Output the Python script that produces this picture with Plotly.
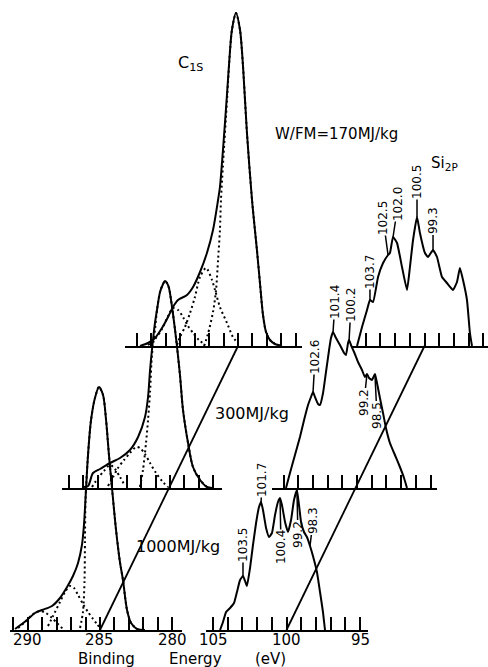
import plotly.graph_objects as go

W, H = 488, 667

# ---------------- data: binding energy (eV) and intensity (arb. units) ----------------
# C1s, W/FM = 1000 MJ/kg
c1s_1000_E = [290.88, 290.05, 289.50, 289.01, 288.32, 287.77, 287.28, 286.87, 286.52, 286.25, 286.11, 285.97,
              285.83, 285.62, 285.35, 285.07, 284.79, 284.58, 284.38, 284.17, 283.89, 283.62, 283.41, 283.13,
              282.85, 282.44, 281.89]
c1s_1000_I = [1, 10, 17, 20, 24, 32, 43, 54, 67, 85, 105, 140, 175, 210, 232, 243, 235, 210, 175, 142, 100, 68,
              50, 20, 7, 1, 0]
c1s_1000_c1_E = [286.38, 286.18, 286.07, 286.04, 286.00, 285.83, 285.62, 285.35, 285.07, 284.79, 284.58, 284.38,
                 284.17, 283.89, 283.62, 283.41, 283.13, 282.85, 282.44]
c1s_1000_c1_I = [2, 18, 50, 90, 130, 175, 210, 232, 243, 235, 210, 175, 142, 100, 68, 50, 20, 7, 1]
c1s_1000_c2_E = [288.60, 288.25, 287.77, 287.42, 287.08, 286.80, 286.52, 286.18, 285.83, 285.48, 285.21, 285.00]
c1s_1000_c2_I = [4, 14, 28, 38, 44, 42, 35, 26, 18, 11, 6, 2]
c1s_1000_c3_E = [290.67, 290.19, 289.71, 289.15, 288.74, 288.32, 287.91, 287.56]
c1s_1000_c3_I = [2, 8, 15, 19, 17, 12, 6, 1]

# C1s, W/FM = 300 MJ/kg
c1s_300_E = [291.02, 290.67, 290.33, 289.84, 289.15, 288.46, 287.77, 287.21, 286.73, 286.52, 286.38, 286.25,
             286.04, 285.90, 285.69, 285.48, 285.35, 285.21, 285.07, 284.86, 284.65, 284.52, 284.31, 284.10,
             283.75, 283.41, 282.92, 282.44, 282.09]
c1s_300_I = [1, 2, 15, 19, 25, 30, 38, 51, 71, 91, 118, 138, 165, 178, 196, 204, 207, 205, 200, 181, 158, 142,
             113, 78, 45, 21, 8, 1, 0]
c1s_300_c1_E = [287.08, 286.87, 286.66, 286.52, 286.38, 286.25, 286.04, 285.90, 285.69, 285.48, 285.35, 285.21,
                285.07, 284.86, 284.65, 284.52, 284.31, 284.10, 283.75, 283.41, 282.92, 282.44]
c1s_300_c1_I = [1, 18, 45, 68, 96, 133, 158, 178, 196, 204, 207, 205, 200, 181, 158, 142, 113, 78, 45, 21, 8, 1]
c1s_300_c2_E = [289.29, 288.94, 288.60, 288.18, 287.77, 287.35, 287.08, 286.73, 286.38, 285.97, 285.55, 285.14]
c1s_300_c2_I = [2, 11, 20, 28, 35, 41, 40, 34, 25, 15, 7, 1]
c1s_300_c3_E = [290.40, 289.98, 289.57, 289.15, 288.81, 288.46, 288.11]
c1s_300_c3_I = [1, 10, 17, 23, 19, 11, 2]

# C1s, W/FM = 170 MJ/kg
c1s_170_E = [291.78, 291.23, 290.74, 290.26, 289.84, 289.50, 289.15, 288.53, 288.11, 287.63, 287.15, 286.73,
             286.38, 286.25, 286.04, 285.76, 285.55, 285.42, 285.14, 284.86, 284.65, 284.38, 284.03, 283.69,
             283.48, 283.27, 283.06, 282.79, 282.44, 281.96]
c1s_170_I = [0, 3, 8, 18, 29, 39, 46, 51, 59, 74, 93, 116, 146, 159, 196, 252, 296, 316, 333, 316, 279, 213, 146,
             96, 63, 31, 14, 6, 2, 0]
c1s_170_c1_E = [287.35, 287.08, 286.73, 286.52, 286.38, 286.25, 286.18, 286.04, 285.76, 285.55, 285.42, 285.14,
                284.86, 284.65, 284.38, 284.03, 283.69, 283.48, 283.27, 283.06, 282.79, 282.44]
c1s_170_c1_I = [0, 12, 34, 56, 86, 116, 146, 181, 246, 296, 316, 333, 316, 279, 213, 146, 96, 63, 31, 14, 6, 2]
c1s_170_c2_E = [289.22, 289.01, 288.67, 288.32, 287.98, 287.63, 287.21, 286.80, 286.59, 286.25, 285.76, 285.35,
                285.00]
c1s_170_c2_I = [1, 9, 19, 33, 49, 69, 78, 66, 56, 39, 23, 9, 3]
c1s_170_c3_E = [291.23, 290.74, 290.26, 289.84, 289.50, 289.15, 288.81, 288.46, 288.11, 287.70, 287.28]
c1s_170_c3_I = [1, 7, 17, 30, 38, 36, 29, 20, 13, 6, 1]

# Si2p, W/FM = 1000 MJ/kg
si_1000_E = [104.52, 104.32, 104.11, 103.84, 103.57, 103.37, 103.16, 102.96, 102.82, 102.69, 102.48, 102.28,
             102.07, 101.87, 101.73, 101.60, 101.39, 101.19, 100.99, 100.78, 100.58, 100.44, 100.31, 100.10,
             99.90, 99.69, 99.49, 99.29, 99.15, 99.01, 98.81, 98.61, 98.40, 98.20, 97.93, 97.72, 97.52, 97.38]
si_1000_I = [0, 8, 18, 22, 27, 38, 50, 54, 49, 44, 62, 85, 107, 123, 128, 120, 102, 93, 97, 115, 128, 132, 125,
             108, 98, 110, 130, 140, 125, 108, 98, 93, 84, 74, 58, 38, 18, 0]

# Si2p, W/FM = 300 MJ/kg
si_300_E = [104.83, 104.56, 104.22, 103.88, 103.60, 103.33, 103.13, 102.99, 102.86, 102.65, 102.52, 102.31,
            102.11, 101.90, 101.77, 101.63, 101.43, 101.16, 100.88, 100.75, 100.61, 100.54, 100.41, 100.20,
            99.93, 99.66, 99.46, 99.32, 99.18, 98.98, 98.78, 98.64, 98.44, 98.23, 98.03, 97.76, 97.42, 97.08,
            96.80, 96.60]
si_300_I = [0, 15, 33, 51, 68, 83, 91, 96, 91, 84, 83, 95, 116, 138, 150, 156, 150, 143, 135, 133, 145, 148, 143,
            136, 126, 118, 111, 114, 110, 108, 114, 105, 90, 75, 60, 45, 33, 21, 10, 0]

# Si2p, W/FM = 170 MJ/kg
si_170_E = [104.59, 104.25, 103.91, 103.71, 103.50, 103.16, 102.82, 102.48, 102.35, 102.14, 101.87, 101.53,
            101.19, 100.99, 100.78, 100.51, 100.31, 99.97, 99.76, 99.42, 99.15, 98.81, 98.47, 98.06, 97.79,
            97.59, 97.38, 97.11, 96.91, 96.77]
si_170_I = [0, 19, 36, 46, 44, 69, 83, 91, 93, 109, 103, 79, 56, 79, 106, 129, 113, 93, 89, 96, 89, 69, 63, 56,
            64, 78, 66, 46, 13, 0]

# peak labels and the points they mark
si_1000_labels = ["103.5", "101.7", "100.4", "99.2", "98.3"]
si_1000_label_E = [102.96, 101.73, 100.44, 99.29, 98.40]
si_1000_label_I = [54, 128, 132, 140, 84]
si_300_labels = ["102.6", "101.4", "100.2", "99.2", "98.5"]
si_300_label_E = [102.99, 101.63, 100.54, 99.32, 98.78]
si_300_label_I = [96, 156, 148, 114, 114]
si_170_labels = ["103.7", "102.5", "102.0", "100.5", "99.3"]
si_170_label_E = [103.71, 102.48, 102.14, 100.51, 99.42]
si_170_label_I = [46, 91, 109, 129, 96]

c1s_ticks_1000 = list(range(291, 279, -1))
c1s_ticks_300 = list(range(292, 281, -1))
c1s_ticks_170 = list(range(292, 280, -1))
si_ticks_1000 = list(range(105, 94, -1))
si_ticks_300 = list(range(105, 94, -1))
si_ticks_170 = list(range(105, 95, -1))
c1s_tick_label_vals = [290, 285, 280]
si_tick_label_vals = [105, 100, 95]

# ---------------- panel geometry (staggered stack) ----------------
panels = [
    dict(E_ref=285.0, px_ref=100.0, base=630, scale=14.45, E_hi=291.25, E_lo=279.35, ticks=c1s_ticks_1000),
    dict(E_ref=285.0, px_ref=170.0, base=488, scale=14.45, E_hi=292.45, E_lo=281.4, ticks=c1s_ticks_300),
    dict(E_ref=285.0, px_ref=238.0, base=346, scale=14.45, E_hi=292.8, E_lo=280.6, ticks=c1s_ticks_170),
    dict(E_ref=100.0, px_ref=286.5, base=630, scale=14.7, E_hi=105.5, E_lo=94.45, ticks=si_ticks_1000),
    dict(E_ref=100.0, px_ref=357.0, base=488, scale=14.7, E_hi=105.75, E_lo=94.55, ticks=si_ticks_300),
    dict(E_ref=100.0, px_ref=424.5, base=346, scale=14.7, E_hi=104.95, E_lo=94.5, ticks=si_ticks_170),
]


def px_of(p, E):
    return p["px_ref"] + (p["E_ref"] - E) * p["scale"]


def E_of(p, px):
    return p["E_ref"] - (px - p["px_ref"]) / p["scale"]


def sfx(i):
    return "" if i == 0 else str(i + 1)


FONT = "DejaVu Sans"
fig = go.Figure()
layout = dict(width=W, height=H, margin=dict(l=0, r=0, t=0, b=0), paper_bgcolor="white",
              plot_bgcolor="rgba(0,0,0,0)", showlegend=False, font=dict(family=FONT, color="black"))

for i, p in enumerate(panels):
    n = sfx(i)
    x0 = px_of(p, p["E_hi"])
    x1 = min(px_of(p, p["E_lo"]), W)
    e_lo = E_of(p, x1)
    layout["xaxis" + n] = dict(domain=[x0 / W, x1 / W], range=[p["E_hi"], e_lo], anchor="y" + n,
                               showline=True, linewidth=2, linecolor="black", ticks="inside", ticklen=13,
                               tickwidth=1.6, tickcolor="black", tickmode="array", tickvals=p["ticks"],
                               showticklabels=False, showgrid=False, zeroline=False, fixedrange=True)
    layout["yaxis" + n] = dict(domain=[1 - p["base"] / H, 1], range=[0, p["base"]], anchor="x" + n,
                               visible=False, fixedrange=True)


def add(E, I, i, dash="solid", smooth=0.8, width=2.0):
    n = sfx(i)
    fig.add_trace(go.Scatter(x=E, y=I, xaxis="x" + n, yaxis="y" + n, mode="lines", hoverinfo="skip",
                             line=dict(color="black", width=width, dash=dash, shape="spline", smoothing=smooth)))


DOT = "2px,3px"
add(c1s_1000_c1_E, c1s_1000_c1_I, 0, DOT)
add(c1s_1000_c2_E, c1s_1000_c2_I, 0, DOT)
add(c1s_1000_c3_E, c1s_1000_c3_I, 0, DOT)
add(c1s_1000_E, c1s_1000_I, 0)
add(c1s_300_c1_E, c1s_300_c1_I, 1, DOT)
add(c1s_300_c2_E, c1s_300_c2_I, 1, DOT)
add(c1s_300_c3_E, c1s_300_c3_I, 1, DOT)
add(c1s_300_E, c1s_300_I, 1)
add(c1s_170_c1_E, c1s_170_c1_I, 2, DOT)
add(c1s_170_c2_E, c1s_170_c2_I, 2, DOT)
add(c1s_170_c3_E, c1s_170_c3_I, 2, DOT)
add(c1s_170_E, c1s_170_I, 2)
add(si_1000_E, si_1000_I, 3, smooth=0.4)
add(si_300_E, si_300_I, 4, smooth=0.4)
add(si_170_E, si_170_I, 5, smooth=0.4)

# connecting perspective lines (through 285 eV and 100 eV on every axis)
shapes = []
for lo, hi, e in [(panels[0], panels[2], 285.0), (panels[3], panels[5], 100.0)]:
    shapes.append(dict(type="line", xref="paper", yref="paper",
                       x0=px_of(lo, e) / W, y0=1 - lo["base"] / H,
                       x1=px_of(hi, e) / W, y1=1 - hi["base"] / H,
                       line=dict(color="black", width=1.8)))
layout["shapes"] = shapes

annotations = []
# energy tick labels under the front (bottom) axes
for i, vals in [(0, c1s_tick_label_vals), (3, si_tick_label_vals)]:
    n = sfx(i)
    for v in vals:
        annotations.append(dict(xref="x" + n, yref="paper", x=v, y=1 - 640 / H, text=str(v), showarrow=False,
                                xanchor="center", yanchor="middle",
                                font=dict(family=FONT, size=15, color="black")))

# peak labels (rotated) with short marker lines
offsets = {
    3: [(0, -31), (1, -22), (1, 49), (1, 44), (3, -25)],
    4: [(2, -35), (2, -30), (2, -35), (-3, 28), (2, 41)],
    5: [(0, -28), (-5, -37), (5, -33), (0, -35), (0, -29)],
}
for i, labs, Es, Is in [(3, si_1000_labels, si_1000_label_E, si_1000_label_I),
                        (4, si_300_labels, si_300_label_E, si_300_label_I),
                        (5, si_170_labels, si_170_label_E, si_170_label_I)]:
    n = sfx(i)
    for k, (t, e, v) in enumerate(zip(labs, Es, Is)):
        dx, dy = offsets[i][k]
        annotations.append(dict(xref="x" + n, yref="y" + n, x=e, y=v, text=t, textangle=-90,
                                showarrow=True, arrowhead=0, arrowwidth=1.5, arrowcolor="black",
                                ax=dx, ay=dy, font=dict(family=FONT, size=12, color="black"),
                                borderpad=0))


def ptext(txt, x, y, size):
    annotations.append(dict(xref="paper", yref="paper", x=x / W, y=1 - y / H, text=txt, showarrow=False,
                            xanchor="center", yanchor="middle", font=dict(family=FONT, size=size, color="black")))


ptext("C<sub>1S</sub>", 190, 64, 16)
ptext("W/FM=170MJ/kg", 336, 134, 15)
ptext("Si<sub>2P</sub>", 444, 163, 15)
ptext("300MJ/kg", 252, 413, 16)
ptext("1000MJ/kg", 178, 546, 16)
ptext("Binding", 106, 659, 15)
ptext("Energy", 195, 659, 15)
ptext("(eV)", 270, 659, 15)
layout["annotations"] = annotations

fig.update_layout(**layout)
fig.write_html("out.html")
